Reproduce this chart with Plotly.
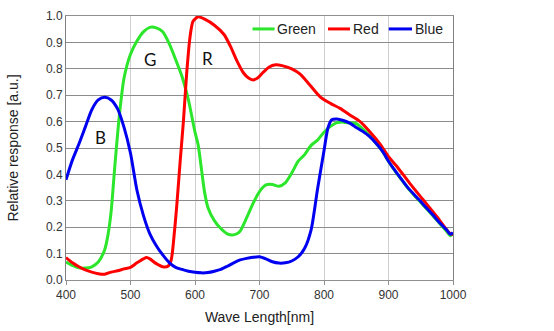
import plotly.graph_objects as go

# Spectral response of the colour channels (wavelength in nm, relative response)
blue_nm = [400, 410, 420, 430, 440, 450, 460, 470, 480, 490, 500, 510, 520, 530, 540,
           550, 560, 570, 580, 590, 600, 610, 620, 630, 640, 650, 660, 670, 680, 690,
           700, 710, 720, 730, 740, 750, 760, 770, 780, 790, 800, 806, 812, 820, 830,
           840, 850, 860, 870, 880, 890, 900, 910, 920, 930, 940, 950, 960, 970, 980,
           990, 996, 1000]
blue_val = [0.38, 0.455, 0.515, 0.58, 0.645, 0.682, 0.692, 0.682, 0.648, 0.578, 0.48,
            0.34, 0.245, 0.175, 0.13, 0.095, 0.066, 0.048, 0.04, 0.033, 0.029, 0.027,
            0.028, 0.033, 0.04, 0.052, 0.065, 0.076, 0.082, 0.086, 0.088, 0.08, 0.069,
            0.064, 0.065, 0.072, 0.088, 0.12, 0.19, 0.345, 0.49, 0.575, 0.607, 0.61,
            0.604, 0.594, 0.578, 0.563, 0.545, 0.52, 0.49, 0.45, 0.415, 0.382, 0.35,
            0.323, 0.297, 0.27, 0.243, 0.215, 0.19, 0.173, 0.18]

green_nm = [400, 410, 420, 430, 440, 450, 460, 465, 470, 476, 483, 490, 500, 510, 520,
            530, 540, 550, 560, 570, 580, 590, 600, 605, 610, 615, 620, 630, 640, 650,
            658, 665, 670, 680, 690, 700, 710, 720, 730, 740, 750, 760, 770, 780, 790,
            800, 810, 820, 830, 840, 850, 860, 870, 880, 890, 900, 910, 920, 930, 940,
            950, 960, 970, 980, 990, 996, 1000]
green_val = [0.068, 0.055, 0.046, 0.045, 0.05, 0.068, 0.115, 0.17, 0.26, 0.44, 0.63,
             0.765, 0.855, 0.905, 0.94, 0.957, 0.955, 0.94, 0.895, 0.835, 0.77, 0.68,
             0.56, 0.51, 0.42, 0.33, 0.275, 0.225, 0.195, 0.175, 0.17, 0.175, 0.185,
             0.235, 0.29, 0.335, 0.36, 0.362, 0.355, 0.368, 0.405, 0.45, 0.475, 0.51,
             0.53, 0.56, 0.582, 0.596, 0.598, 0.595, 0.592, 0.572, 0.548, 0.52, 0.49,
             0.45, 0.413, 0.38, 0.348, 0.32, 0.294, 0.267, 0.24, 0.212, 0.185, 0.168,
             0.175]

red_nm = [400, 410, 420, 430, 440, 450, 460, 470, 480, 490, 500, 510, 520, 525, 530,
          540, 550, 558, 563, 568, 572, 577, 582, 587, 592, 597, 605, 615, 630, 645,
          655, 665, 675, 683, 690, 697, 705, 715, 725, 735, 750, 763, 778, 794, 810,
          825, 840, 856, 871, 887, 900, 913, 933, 954, 975, 995, 1000]
red_val = [0.085, 0.065, 0.05, 0.038, 0.03, 0.024, 0.022, 0.03, 0.035, 0.042, 0.048,
           0.065, 0.08, 0.085, 0.08, 0.062, 0.05, 0.052, 0.075, 0.18, 0.29, 0.45, 0.6,
           0.78, 0.915, 0.98, 0.997, 0.988, 0.965, 0.93, 0.885, 0.83, 0.785, 0.765,
           0.758, 0.765, 0.785, 0.807, 0.815, 0.812, 0.8, 0.78, 0.739, 0.694, 0.669,
           0.65, 0.625, 0.6, 0.562, 0.515, 0.467, 0.43, 0.366, 0.303, 0.24, 0.177,
           0.172]

# Channel letters placed near each peak
peak_labels = ["B", "G", "R"]
peak_x = [453, 530, 619]
peak_y = [0.54, 0.835, 0.84]

x_ticks = [400, 500, 600, 700, 800, 900, 1000]
y_ticks = [0.0, 0.1, 0.2, 0.3, 0.4, 0.5, 0.6, 0.7, 0.8, 0.9, 1.0]

GREEN = "#2BE62B"
RED = "#FF0000"
BLUE = "#0000F0"

series = [("Green", green_nm, green_val, GREEN),
          ("Red", red_nm, red_val, RED),
          ("Blue", blue_nm, blue_val, BLUE)]

fig = go.Figure()
for name, xs, ys, col in series:
    fig.add_trace(go.Scatter(
        x=xs, y=ys, name=name, mode="lines", showlegend=False,
        line=dict(color=col, width=3, shape="spline", smoothing=0.7),
    ))

for txt, xv, yv in zip(peak_labels, peak_x, peak_y):
    fig.add_annotation(x=xv, y=yv, text=txt, showarrow=False,
                       font=dict(family="Lato", size=17, color="#111111"))

# Compact legend row along the top edge of the plot (paper coordinates)
legend_y = 0.951
legend_items = [(0.482, 0.539), (0.677, 0.734), (0.834, 0.894)]
for (x0, x1), (name, _, _, col) in zip(legend_items, series):
    fig.add_shape(type="line", xref="paper", yref="paper",
                  x0=x0, x1=x1, y0=legend_y, y1=legend_y,
                  line=dict(color=col, width=3))
    fig.add_annotation(xref="paper", yref="paper", x=x1 + 0.002, y=legend_y,
                       xanchor="left", yanchor="middle", text=name, showarrow=False,
                       font=dict(family="Liberation Sans", size=14, color="#222222"))

fig.update_layout(
    width=554, height=331,
    margin=dict(l=66, r=101, t=16, b=51),
    paper_bgcolor="white", plot_bgcolor="white",
    font=dict(family="Liberation Sans", size=12, color="#333333"),
)
fig.update_xaxes(
    range=[400, 1000], tickvals=x_ticks, ticktext=[str(v) for v in x_ticks],
    showgrid=True, gridcolor="#D0D0D0", gridwidth=1,
    showline=True, linecolor="#909090", linewidth=1, mirror=True,
    ticks="outside", ticklen=4, tickcolor="#909090",
    zeroline=False, automargin=False,
    title=dict(text="Wave Length[nm]", font=dict(family="Liberation Sans", size=14,
                                                  color="#222222"), standoff=10),
    tickfont=dict(family="Liberation Sans", size=12, color="#333333"),
)
fig.update_yaxes(
    range=[0, 1.0], tickvals=y_ticks, ticktext=[f"{v:.1f}" for v in y_ticks],
    showgrid=True, gridcolor="#8C8C8C", gridwidth=1,
    showline=True, linecolor="#808080", linewidth=1, mirror=True,
    zeroline=False, automargin=False,
    title=dict(text="Relative response [a.u.]", font=dict(family="Liberation Sans",
                                                          size=14, color="#222222"),
               standoff=24),
    tickfont=dict(family="Liberation Sans", size=12, color="#333333"),
)

fig.write_html("out.html")
